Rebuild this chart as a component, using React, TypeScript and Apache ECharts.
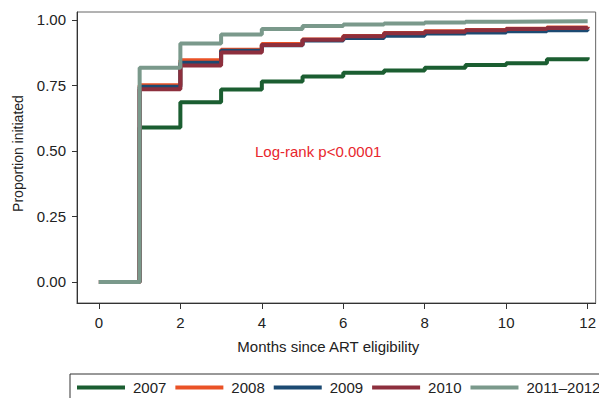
import React, { useEffect, useRef } from "react";
import * as echarts from "echarts";

const months = [0, 1, 2, 3, 4, 5, 6, 7, 8, 9, 10, 11, 12];
const seriesNames = ["2007", "2008", "2009", "2010", "2011–2012"];
const s2007 = [0, 0.590, 0.686, 0.735, 0.765, 0.784, 0.799, 0.807, 0.818, 0.828, 0.835, 0.850, 0.858];
const s2008 = [0, 0.751, 0.846, 0.886, 0.908, 0.926, 0.939, 0.950, 0.957, 0.962, 0.967, 0.971, 0.974];
const s2009 = [0, 0.745, 0.837, 0.883, 0.904, 0.922, 0.931, 0.940, 0.948, 0.952, 0.957, 0.961, 0.964];
const s2010 = [0, 0.736, 0.826, 0.876, 0.905, 0.925, 0.938, 0.949, 0.955, 0.961, 0.966, 0.969, 0.972];
const s2011 = [0, 0.818, 0.910, 0.945, 0.966, 0.977, 0.983, 0.987, 0.990, 0.993, 0.994, 0.995, 0.996];
const xTicks = [0, 2, 4, 6, 8, 10, 12];
const yTicks = [0, 0.25, 0.5, 0.75, 1];
const colors = ["#1b5e31", "#ea5226", "#1c4a72", "#8d2f3d", "#7a998b"];
const annotation = "Log-rank p<0.0001";

const FONT = "'Liberation Sans', Arial, Helvetica, sans-serif";

export default function App() {
  const ref = useRef<HTMLDivElement>(null);
  useEffect(() => {
    if (!ref.current) return;
    const chart = echarts.init(ref.current, null, { renderer: "svg" });
    const allSeries = [s2007, s2008, s2009, s2010, s2011];
    chart.setOption({
      animation: false,
      textStyle: { fontFamily: FONT },
      grid: {
        left: 77,
        right: 1,
        top: 12,
        bottom: 95,
        show: true,
        borderColor: "#666",
        borderWidth: 1,
      },
      legend: {
        left: 70,
        top: 374,
        width: 700,
        orient: "horizontal",
        icon: "rect",
        itemWidth: 48,
        itemHeight: 4,
        itemGap: 9,
        padding: [6, 7, 6, 7],
        borderColor: "#333",
        borderWidth: 1,
        textStyle: { fontSize: 15, color: "#222", fontFamily: FONT, padding: [0, 0, 0, 3] },
        data: seriesNames,
      },
      xAxis: {
        type: "value",
        min: -0.538,
        max: 12.196,
        name: "Months since ART eligibility",
        nameLocation: "middle",
        nameGap: 36,
        nameTextStyle: { fontSize: 15, color: "#222", fontFamily: FONT, padding: [0, 16, 0, 0] },
        axisLine: { show: true, onZero: false, lineStyle: { color: "#333", width: 1 } },
        axisTick: { show: true, length: 6, lineStyle: { color: "#333" }, customValues: xTicks },
        axisLabel: { fontSize: 15, color: "#222", margin: 12, customValues: xTicks, fontFamily: FONT },
        splitLine: { show: false },
      },
      yAxis: {
        type: "value",
        min: -0.0802,
        max: 1.0305,
        name: "Proportion initiated",
        nameLocation: "middle",
        nameGap: 52,
        nameTextStyle: { fontSize: 14, color: "#222", fontFamily: FONT, padding: [0, 0, 0, 8] },
        axisLine: { show: true, onZero: false, lineStyle: { color: "#333", width: 1 } },
        axisTick: { show: true, length: 5, lineStyle: { color: "#333" }, customValues: yTicks },
        axisLabel: {
          fontSize: 15,
          color: "#222",
          margin: 11,
          customValues: yTicks,
          fontFamily: FONT,
          formatter: (v: number) => v.toFixed(2),
        },
        splitLine: { show: false },
      },
      graphic: [
        {
          type: "text",
          left: 255,
          top: 144,
          style: { text: annotation, fill: "#e8262d", fontSize: 15, fontFamily: FONT },
        },
      ],
      series: allSeries.map((vals, i) => ({
        name: seriesNames[i],
        type: "line",
        step: "end",
        symbol: "none",
        showSymbol: false,
        color: colors[i],
        lineStyle: { color: colors[i], width: 4 },
        data: months.map((m, j) => [m, vals[j]]),
      })),
    });
    return () => chart.dispose();
  }, []);
  return (
    <div
      ref={ref}
      style={{ position: "fixed", left: 0, top: 0, width: 599, height: 398, background: "#fff" }}
    />
  );
}
